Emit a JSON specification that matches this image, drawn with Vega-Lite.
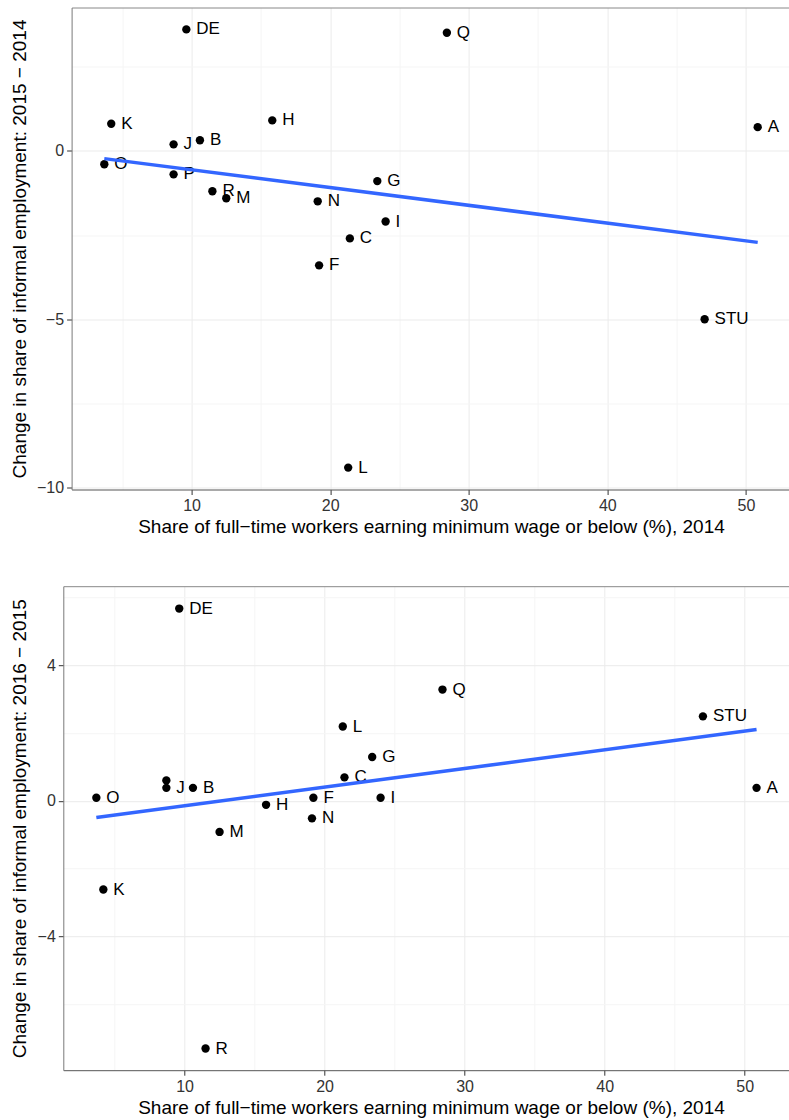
{
  "$schema": "https://vega.github.io/schema/vega-lite/v6.json",
  "padding": {"left": 10, "top": 7.5, "right": 0, "bottom": 0},
  "background": "white",
  "datasets": {
    "regions": [
      {"region": "A", "share2014": 50.85, "chg15": 0.70, "chg16": 0.38},
      {"region": "B", "share2014": 10.6, "chg15": 0.31, "chg16": 0.38},
      {"region": "C", "share2014": 21.42, "chg15": -2.60, "chg16": 0.69},
      {"region": "DE", "share2014": 9.62, "chg15": 3.60, "chg16": 5.67},
      {"region": "F", "share2014": 19.2, "chg15": -3.40, "chg16": 0.09},
      {"region": "G", "share2014": 23.4, "chg15": -0.90, "chg16": 1.29},
      {"region": "H", "share2014": 15.82, "chg15": 0.90, "chg16": -0.12},
      {"region": "I", "share2014": 24.0, "chg15": -2.10, "chg16": 0.09},
      {"region": "J", "share2014": 8.7, "chg15": 0.19, "chg16": 0.38},
      {"region": "K", "share2014": 4.2, "chg15": 0.80, "chg16": -2.62},
      {"region": "L", "share2014": 21.3, "chg15": -9.40, "chg16": 2.19},
      {"region": "M", "share2014": 12.5, "chg15": -1.41, "chg16": -0.92},
      {"region": "N", "share2014": 19.1, "chg15": -1.50, "chg16": -0.52},
      {"region": "O", "share2014": 3.7, "chg15": -0.40, "chg16": 0.09},
      {"region": "P", "share2014": 8.7, "chg15": -0.70, "chg16": 0.60},
      {"region": "Q", "share2014": 28.42, "chg15": 3.50, "chg16": 3.28},
      {"region": "R", "share2014": 11.5, "chg15": -1.20, "chg16": -7.31},
      {"region": "STU", "share2014": 47.02, "chg15": -5.00, "chg16": 2.49}
    ]
  },
  "data": {"name": "regions"},
  "bounds": "flush",
  "center": true,
  "spacing": 96.7,
  "vconcat": [
    {
      "width": 718.8,
      "height": 482,
      "layer": [
        {
          "mark": {"type": "point", "filled": true, "color": "black", "opacity": 1, "size": 70},
          "encoding": {
            "x": {
              "field": "share2014", "type": "quantitative",
              "scale": {"domain": [1.34, 53.21], "nice": false, "zero": false},
              "axis": {"values": [10, 20, 30, 40, 50], "title": "Share of full−time workers earning minimum wage or below (%), 2014", "grid": true, "gridColor": "#EBEBEB", "domainColor": "#555555"}
            },
            "y": {
              "field": "chg15", "type": "quantitative",
              "scale": {"domain": [-10.05, 4.25], "nice": false, "zero": false},
              "axis": {"values": [-10, -5, 0], "title": "Change in share of informal employment: 2015 − 2014", "grid": true, "gridColor": "#EBEBEB", "domainColor": "#7a7a7a", "minExtent": 38, "maxExtent": 38}
            }
          }
        },
        {
          "mark": {"type": "text", "align": "left", "baseline": "middle", "dx": 10, "fontSize": 17, "color": "black"},
          "encoding": {
            "x": {
              "field": "share2014", "type": "quantitative",
              "axis": {"orient": "top", "values": [5, 15, 25, 35, 45], "labels": false, "ticks": false, "title": null, "grid": true, "gridColor": "#F5F5F5", "domain": true, "domainColor": "#888888", "minExtent": 0, "maxExtent": 0}
            },
            "y": {
              "field": "chg15", "type": "quantitative",
              "axis": {"orient": "right", "values": [-7.5, -2.5, 2.5], "labels": false, "ticks": false, "title": null, "grid": true, "gridColor": "#F5F5F5", "domain": false, "minExtent": 0, "maxExtent": 0}
            },
            "text": {"field": "region"}
          }
        },
        {
          "transform": [{"regression": "chg15", "on": "share2014"}],
          "mark": {"type": "line", "color": "#3366FF", "strokeWidth": 3.5},
          "encoding": {
            "x": {"field": "share2014", "type": "quantitative", "axis": null},
            "y": {"field": "chg15", "type": "quantitative", "axis": null}
          }
        }
      ],
      "resolve": {"axis": {"x": "independent", "y": "independent"}}
    },
    {
      "width": 735.4,
      "height": 484,
      "layer": [
        {
          "mark": {"type": "point", "filled": true, "color": "black", "opacity": 1, "size": 70},
          "encoding": {
            "x": {
              "field": "share2014", "type": "quantitative",
              "scale": {"domain": [1.34, 53.86], "nice": false, "zero": false},
              "axis": {"values": [10, 20, 30, 40, 50], "title": "Share of full−time workers earning minimum wage or below (%), 2014", "grid": true, "gridColor": "#EBEBEB", "domainColor": "#555555"}
            },
            "y": {
              "field": "chg16", "type": "quantitative",
              "scale": {"domain": [-7.95, 6.33], "nice": false, "zero": false},
              "axis": {"values": [-4, 0, 4], "title": "Change in share of informal employment: 2016 − 2015", "grid": true, "gridColor": "#EBEBEB", "domainColor": "#7a7a7a", "minExtent": 29.7, "maxExtent": 29.7}
            }
          }
        },
        {
          "transform": [{"filter": "datum.region !== 'P'"}],
          "mark": {"type": "text", "align": "left", "baseline": "middle", "dx": 10, "fontSize": 17, "color": "black"},
          "encoding": {
            "x": {
              "field": "share2014", "type": "quantitative",
              "axis": {"orient": "top", "values": [5, 15, 25, 35, 45], "labels": false, "ticks": false, "title": null, "grid": true, "gridColor": "#F5F5F5", "domain": true, "domainColor": "#888888", "minExtent": 0, "maxExtent": 0}
            },
            "y": {
              "field": "chg16", "type": "quantitative",
              "axis": {"orient": "right", "values": [-6, -2, 2, 6], "labels": false, "ticks": false, "title": null, "grid": true, "gridColor": "#F5F5F5", "domain": false, "minExtent": 0, "maxExtent": 0}
            },
            "text": {"field": "region"}
          }
        },
        {
          "transform": [{"regression": "chg16", "on": "share2014"}],
          "mark": {"type": "line", "color": "#3366FF", "strokeWidth": 3.5},
          "encoding": {
            "x": {"field": "share2014", "type": "quantitative", "axis": null},
            "y": {"field": "chg16", "type": "quantitative", "axis": null}
          }
        }
      ],
      "resolve": {"axis": {"x": "independent", "y": "independent"}}
    }
  ],
  "config": {
    "font": "Liberation Sans",
    "view": {"stroke": null},
    "axis": {
      "labelFont": "Liberation Sans",
      "labelFontSize": 16,
      "labelColor": "#333333",
      "labelPadding": 3,
      "tickSize": 5,
      "tickColor": "#333333",
      "tickWidth": 1,
      "domainWidth": 1,
      "gridWidth": 1,
      "titleFont": "Liberation Sans",
      "titleFontSize": 19,
      "titleFontWeight": "normal",
      "titleColor": "black",
      "titlePadding": 4,
      "labelFlush": false,
      "labelOverlap": false
    }
  }
}
